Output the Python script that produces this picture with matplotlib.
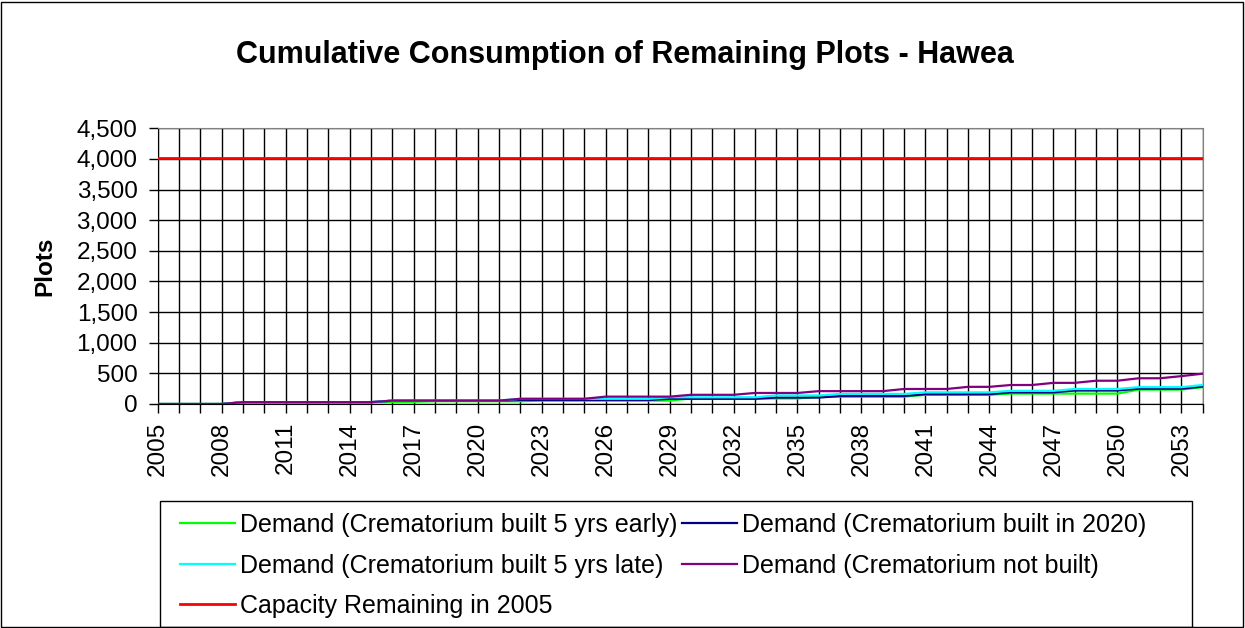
import matplotlib
matplotlib.use("Agg")
import matplotlib.pyplot as plt
from matplotlib.patches import Rectangle
from matplotlib.ticker import FuncFormatter, MultipleLocator

plt.rcParams['font.family'] = ['Liberation Sans', 'DejaVu Sans']

years = list(range(2005, 2055))

def expand(spec):
    out = []
    for v, n in spec:
        out += [v] * n
    return out

early = expand([(0, 4), (30, 7), (35, 2), (45, 5), (55, 7), (90, 6), (120, 5),
                (150, 4), (170, 6), (235, 3), (275, 1)])
in2020 = expand([(0, 4), (30, 7), (55, 6), (65, 7), (85, 5), (105, 3), (130, 4),
                 (160, 4), (190, 3), (220, 3), (250, 3), (285, 1)])
late = expand([(0, 4), (30, 7), (55, 6), (85, 7), (110, 5), (140, 3), (165, 4),
               (190, 4), (215, 3), (245, 3), (275, 3), (310, 1)])
notbuilt = expand([(0, 4), (30, 7), (55, 6), (85, 4), (120, 4), (150, 3), (180, 3),
                   (210, 4), (245, 3), (280, 2), (310, 2), (345, 2), (380, 2),
                   (420, 2), (455, 1), (495, 1)])
capacity = [4010] * len(years)

series_labels = ["Demand (Crematorium built 5 yrs early)",
                 "Demand (Crematorium built in 2020)",
                 "Demand (Crematorium built 5 yrs late)",
                 "Demand (Crematorium not built)",
                 "Capacity Remaining in 2005"]
colors = ["#00FF00", "#000080", "#00FFFF", "#800080", "#FF0000"]

W, H = 1245, 628
fig = plt.figure(figsize=(W / 100, H / 100), dpi=100)
ax = fig.add_axes([157.7 / W, 1 - 404 / H, (1202.7 - 157.7) / W, (404 - 128.3) / H])

data = [early, in2020, late, notbuilt, capacity]
handles = []
for d, c, lab in zip(data, colors, series_labels):
    lw = 2.0 if c == "#FF0000" else 1.6
    h, = ax.plot(years, d, color=c, lw=lw, label=lab, zorder=3)
    handles.append(h)

ax.set_xlim(2005, 2054)
ax.set_ylim(0, 4500)
ax.yaxis.set_major_locator(MultipleLocator(500))
ax.yaxis.set_major_formatter(FuncFormatter(lambda v, p: f"{int(v):,}"))
ax.set_xticks(list(range(2005, 2055, 3)))
ax.set_xticks(years, minor=True)
ax.set_xticklabels([str(y) for y in range(2005, 2055, 3)], rotation=90)
ax.tick_params(axis='both', which='both', direction='out', length=6.5, width=1,
               color='black', labelsize=17.5)
ax.tick_params(axis='y', which='major', pad=8)
ax.tick_params(axis='x', which='major', pad=6.5)
ax.grid(True, which='both', axis='x', color='black', lw=1)
ax.grid(True, which='major', axis='y', color='black', lw=1)
ax.set_axisbelow(True)
for s in ['left', 'bottom']:
    ax.spines[s].set_color('black')
for s in ['top', 'right']:
    ax.spines[s].set_color('#808080')
ax.set_ylabel("Plots", fontsize=17.5, fontweight='bold')
ax.yaxis.set_label_coords((56 - 157.7) / 1045, 0.5)

fig.text(625 / W, 1 - 55 / H, "Cumulative Consumption of Remaining Plots - Hawea",
         ha='center', va='center', fontsize=22, fontweight='bold')

# legend box
fig.patches.append(Rectangle((160 / W, 1 - 627 / H), (1192 - 160) / W, (627 - 501) / H,
                             transform=fig.transFigure, fill=False, edgecolor='black', lw=1))
order = [0, 2, 4, 1, 3]
fig.legend([handles[i] for i in order], [series_labels[i] for i in order],
           loc='upper left', bbox_to_anchor=(180 / W, 1 - 513 / H), ncol=2,
           frameon=False, fontsize=18, handlelength=2.2, handletextpad=0.2,
           columnspacing=0.18, labelspacing=0.66, borderaxespad=0, borderpad=0)

# outer border
fig.patches.append(Rectangle((1 / W, 1 / H), (W - 3) / W, (H - 3) / H,
                             transform=fig.transFigure, fill=False, edgecolor='black', lw=1))

fig.savefig("out.png", dpi=100)
